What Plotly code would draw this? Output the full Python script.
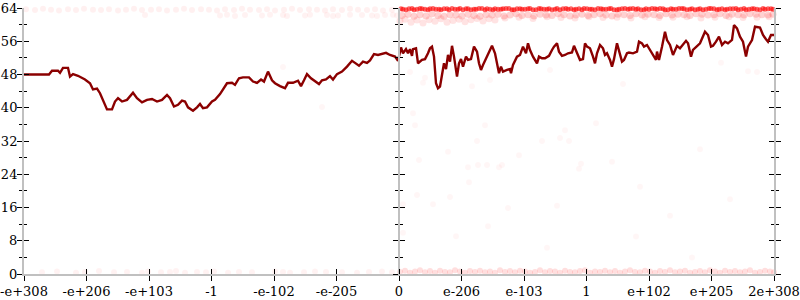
import plotly.graph_objects as go

# ---------------- data ----------------
tick_positions = [0, 62.5, 125, 187.5, 250, 312.5, 375, 437.5, 500, 562.5, 625, 687.5, 750]
tick_labels = ["-e+308", "-e+206", "-e+103", "-1", "-e-102", "-e-205", "0",
               "e-206", "e-103", "1", "e+102", "e+205", "2e+308"]
y_ticks = [0, 8, 16, 24, 32, 40, 48, 56, 64]
y_minor = [4, 12, 20, 28, 36, 44, 52, 60]

line_x = [0, 25, 28, 34, 36, 39, 44, 46, 49, 54, 61, 66, 69, 73, 76, 79, 83, 88, 91, 94, 98,
          103, 109, 113, 118, 123, 128, 133, 138, 143, 146, 150, 154, 158, 161, 164, 169, 173,
          176, 179, 183, 188, 191, 196, 199, 203, 208, 211, 215, 219, 225, 229, 233, 237, 240,
          244, 248, 251, 256, 261, 264, 269, 274, 277, 280, 283, 287, 291, 295, 298, 302, 306,
          309, 313, 318, 323, 328, 331, 335, 339, 343, 346, 350, 354, 359, 362, 366, 371, 374,
          377, 379, 382, 384, 386, 388, 389, 392, 394, 398, 401, 404, 406, 408, 410, 412, 414,
          416, 418, 420, 422, 424, 426, 428, 430, 433, 435, 437, 439, 442, 444, 447, 450, 453,
          455, 457, 459, 463, 468, 471, 473, 475, 477, 479, 483, 486, 487, 489, 493, 496, 499,
          502, 504, 506, 509, 513, 515, 518, 521, 525, 528, 530, 533, 535, 538, 541, 544, 548,
          550, 553, 556, 559, 561, 563, 566, 569, 571, 573, 576, 579, 581, 583, 586, 588, 590,
          593, 595, 598, 600, 603, 605, 609, 613, 615, 618, 620, 623, 626, 629, 632, 633, 635,
          638, 641, 643, 646, 649, 653, 656, 659, 662, 664, 667, 669, 673, 676, 681, 684, 687,
          689, 692, 695, 698, 701, 704, 708, 710, 713, 716, 719, 722, 724, 728, 731, 736, 739,
          742, 744, 747, 750]
line_y = [48, 48, 48.9, 48.9, 48.4, 49.6, 49.6, 47.5, 48.1, 47.7, 46.8, 45.9, 44.4, 44.6, 43.5,
          41.9, 39.6, 39.6, 41.5, 42.3, 41.5, 41.9, 43.6, 42.3, 41.3, 41.9, 42.1, 41.5, 41.9,
          43.1, 42.3, 40.3, 40.7, 41.7, 41.5, 40.1, 39.3, 40.1, 40.9, 39.9, 40.1, 41.5, 41.9,
          43.3, 44.4, 45.9, 46.0, 45.5, 47.1, 47.3, 47.3, 46.3, 46.0, 46.8, 46.3, 48.7, 46.6,
          45.9, 45.2, 44.7, 46.0, 46.0, 46.5, 45.2, 46.6, 48.1, 47.1, 46.5, 45.7, 46.6, 46.8,
          47.6, 46.8, 48.1, 48.7, 49.9, 51.3, 50.8, 50.1, 51.1, 50.8, 51.4, 52.9, 52.7, 52.9,
          53.2, 52.7, 52.3, 51.3,
          54.5, 53.1, 54.1, 53.1, 54.1, 52.5, 54.1, 54.3, 50.7, 51.5, 51.7, 53.1, 54.3, 54.7,
          52.3, 45.9, 44.7, 45.1, 47.5, 50.7, 49.3, 52.7, 51.1, 54.9, 52.3, 47.5, 50.7, 51.7,
          49.9, 52.3, 51.5, 51.7, 54.7, 53.5, 50.7, 49.1, 50.3, 52.3, 54.9, 53.1, 50.3, 48.3,
          49.9, 48.7, 49.1, 49.3, 48.3, 50.3, 52.3, 52.7, 54.7, 53.1, 55.5, 53.9, 52.3, 50.7,
          52.3, 51.9, 51.9, 52.5, 53.9, 54.7, 55.5, 53.5, 52.5, 52.7, 53.1, 53.3, 54.9, 53.1,
          51.5, 51.7, 55.5, 54.7, 54.3, 52.3, 50.7, 53.1, 55.1, 54.3, 52.7, 53.1, 51.5, 49.9,
          51.7, 55.5, 53.9, 51.1, 51.5, 53.1, 53.3, 53.1, 53.5, 55.9, 55.5, 54.7, 55.1, 53.9,
          52.7, 51.5, 53.5, 51.5, 54.7, 58.3, 56.3, 55.1, 52.7, 54.9, 54.3, 55.1, 56.1, 55.5,
          52.3, 53.9, 54.7, 55.5, 58.3, 57.5, 54.7, 54.9, 55.9, 57.1, 55.1, 55.9, 55.5, 56.3,
          59.9, 59.1, 57.1, 55.9, 52.3, 54.7, 56.3, 59.5, 59.3, 57.5, 56.5, 55.9, 57.5, 57.5]

# faint top band, left half
top_left_x = [2, 11, 19, 27, 35, 44, 52, 60, 69, 77, 85, 94, 102, 110, 118, 127, 135, 143, 152,
              160, 168, 177, 185, 193, 201, 210, 218, 226, 235, 243, 251, 260, 268, 276, 285,
              293, 301, 309, 318, 326, 334, 343, 351, 359, 368]
top_left_y = [63.7, 63.5, 63.8, 63.6, 63.4, 63.7, 63.5, 63.8, 63.6, 63.5, 63.7, 63.4, 63.6,
              63.8, 63.5, 63.6, 63.7, 63.4, 63.6, 63.8, 63.5, 63.7, 63.6, 63.4, 63.7, 63.5,
              63.8, 63.6, 63.5, 63.7, 63.4, 63.6, 63.8, 63.5, 63.7, 63.6, 63.4, 63.7, 63.5,
              63.8, 63.6, 63.5, 63.7, 63.4, 63.6]
# sparse second row, left half
row2_left_x = [121, 196, 203, 211, 221, 238, 246, 259, 263, 281, 286, 303, 309, 314, 326, 338,
               348, 353, 361, 369, 373]
row2_left_y = [62.3, 62.2, 62.4, 62.1, 62.3, 62.2, 62.4, 62.3, 62.1, 62.2, 62.4, 62.3, 62.1,
               62.2, 62.4, 62.3, 62.2, 62.1, 62.3, 62.4, 62.2]

# strong top band, right half (two interleaved rows of samples)
top_right_x = [377, 382, 388, 393, 398, 404, 409, 415, 420, 425, 431, 436, 442, 447, 452, 458,
               463, 469, 474, 479, 485, 490, 496, 501, 506, 512, 517, 523, 528, 533, 539, 544,
               550, 555, 560, 566, 571, 577, 582, 587, 593, 598, 604, 609, 614, 620, 625, 631,
               636, 641, 647, 652, 658, 663, 668, 674, 679, 685, 690, 695, 701, 706, 712, 717,
               722, 728, 733, 739, 744, 749]
top_right_x2 = [379, 385, 390, 396, 401, 406, 412, 417, 423, 428, 434, 439, 444, 450, 455, 461,
                466, 471, 477, 482, 488, 493, 498, 504, 509, 515, 520, 525, 531, 536, 542, 547,
                552, 558, 563, 568, 574, 579, 585, 590, 595, 601, 606, 612, 617, 622, 628, 633,
                639, 644, 649, 655, 660, 666, 671, 676, 682, 687, 693, 698, 703, 709, 714, 720,
                725, 730, 736, 741, 747]
top_right_y = [63.8, 63.6, 63.9, 63.7, 63.8, 63.6, 63.9, 63.7, 63.8, 63.6, 63.7, 63.9, 63.8,
               63.6, 63.7, 63.9, 63.8, 63.6, 63.7, 63.8, 63.9, 63.6, 63.8, 63.7, 63.9, 63.6,
               63.8, 63.7, 63.6, 63.9, 63.8, 63.7, 63.6, 63.8, 63.9, 63.7, 63.6, 63.8, 63.7,
               63.9, 63.6, 63.8, 63.7, 63.9, 63.8, 63.6, 63.7, 63.8, 63.9, 63.6, 63.8, 63.7,
               63.9, 63.6, 63.8, 63.7, 63.6, 63.9, 63.8, 63.7, 63.6, 63.8, 63.9, 63.7, 63.6,
               63.8, 63.7, 63.9, 63.8, 63.7]
top_right_y2 = [63.7, 63.8, 63.6, 63.9, 63.7, 63.8, 63.7, 63.6, 63.8, 63.9, 63.7, 63.6, 63.8,
                63.7, 63.9, 63.6, 63.7, 63.8, 63.7, 63.9, 63.6, 63.8, 63.7, 63.8, 63.6, 63.9,
                63.7, 63.8, 63.7, 63.6, 63.9, 63.8, 63.7, 63.6, 63.8, 63.7, 63.9, 63.7, 63.8,
                63.6, 63.7, 63.9, 63.8, 63.7, 63.6, 63.8, 63.9, 63.7, 63.8, 63.6, 63.7, 63.9,
                63.8, 63.7, 63.6, 63.8, 63.7, 63.9, 63.6, 63.8, 63.7, 63.8, 63.6, 63.9, 63.7,
                63.8, 63.6, 63.7, 63.8]

# second band, right half
band2_x = [378, 384, 390, 396, 402, 408, 414, 420, 426, 432, 438, 444, 450, 456, 462, 468, 474,
           480, 486, 492, 498, 504, 510, 516, 522, 528, 534, 540, 546, 552, 558, 564, 570, 576,
           582, 588, 594, 600, 606, 612, 618, 624, 630, 636, 642, 648, 654, 660, 666, 672, 678,
           684, 690, 696, 702, 708, 714, 720, 726, 732, 738, 744, 749]
band2_y = [62.2, 62.5, 62.0, 62.4, 62.1, 62.6, 62.2, 62.0, 62.4, 62.3, 62.1, 62.5, 62.2, 62.0,
           62.4, 62.3, 62.5, 62.1, 62.3, 62.6, 62.2, 62.4, 62.1, 62.5, 62.3, 62.2, 62.6, 62.4,
           62.1, 62.3, 62.5, 62.2, 62.4, 62.6, 62.3, 62.1, 62.5, 62.4, 62.2, 62.6, 62.3, 62.5,
           62.4, 62.2, 62.6, 62.3, 62.5, 62.4, 62.2, 62.6, 62.5, 62.3, 62.4, 62.6, 62.2, 62.5,
           62.4, 62.3, 62.6, 62.5, 62.4, 62.3, 62.5]
band3_x = [376, 381, 387, 393, 399, 405, 411, 417, 423, 429, 435, 441, 447, 453, 459, 465, 471,
           481, 495, 509, 523, 537, 551, 565, 579, 593, 607, 621, 635, 649, 663, 677, 691, 705,
           719, 733, 745]
band3_y = [60.9, 61.3, 60.6, 61.1, 60.4, 61.2, 60.8, 61.4, 60.6, 61.0, 61.3, 60.7, 61.2, 61.5,
           60.9, 61.4, 61.1, 61.6, 61.8, 61.5, 61.9, 61.7, 61.6, 61.9, 61.7, 61.8, 61.6, 61.9,
           61.7, 61.8, 61.9, 61.6, 61.8, 61.9, 61.7, 61.8, 61.9]

# bottom band, right half (dense)
bot_right_x = [376, 381, 386, 391, 396, 401, 406, 411, 416, 421, 426, 431, 436, 441, 446, 451,
               456, 461, 466, 471, 476, 481, 486, 491, 496, 501, 506, 511, 516, 521, 526, 531,
               536, 541, 546, 551, 556, 561, 566, 571, 576, 581, 586, 591, 596, 601, 606, 611,
               616, 621, 626, 631, 636, 641, 646, 651, 656, 661, 666, 671, 676, 681, 686, 691,
               696, 701, 706, 711, 716, 721, 726, 731, 736, 741, 746, 750]
bot_right_y = [0.5, 0.8, 0.3, 0.6, 0.9, 0.4, 0.7, 0.3, 0.8, 0.5, 0.4, 0.9, 0.6, 0.3, 0.7, 0.5,
               0.8, 0.4, 0.6, 0.3, 0.9, 0.5, 0.7, 0.4, 0.8, 0.6, 0.3, 0.5, 0.9, 0.4, 0.7, 0.6,
               0.3, 0.8, 0.5, 0.4, 0.7, 0.9, 0.3, 0.6, 0.5, 0.8, 0.4, 0.7, 0.3, 0.6, 0.9, 0.5,
               0.4, 0.8, 0.6, 0.3, 0.7, 0.5, 0.9, 0.4, 0.6, 0.8, 0.3, 0.5, 0.7, 0.4, 0.9, 0.6,
               0.3, 0.8, 0.5, 0.7, 0.4, 0.6, 0.9, 0.3, 0.5, 0.8, 0.6, 0.4]
# bottom band, left half (sparse)
bot_left_x = [18, 33, 52, 61, 75, 90, 103, 118, 124, 137, 146, 152, 161, 173, 182, 190, 204,
              215, 228, 251, 259, 266, 280, 291, 302, 318, 333, 345, 358, 368]
bot_left_y = [0.4, 0.6, 0.3, 0.5, 0.7, 0.4, 0.5, 0.3, 0.6, 0.4, 0.5, 0.7, 0.3, 0.5, 0.4, 0.6,
              0.3, 0.5, 0.4, 0.6, 0.5, 0.3, 0.4, 0.6, 0.5, 0.4, 0.3, 0.5, 0.6, 0.4]

# scattered stray points
stray_x = [389, 391, 461, 453, 518, 536, 545, 541, 572, 424, 495, 395, 444, 454, 463, 475, 478,
           557, 555, 445, 393, 426, 409, 379, 484, 533, 464, 379, 432, 523, 386, 401, 399, 448,
           466, 526, 697, 724, 733, 599, 259, 298, 286, 588, 616, 646, 676, 706, 612, 668]
stray_y = [38.7, 35.8, 35.8, 32.0, 32.0, 32.7, 32.0, 34.6, 36.3, 29.4, 28.6, 27.4, 25.7, 26.2,
           26.2, 25.7, 26.2, 26.5, 25.3, 22.1, 19.0, 18.5, 16.8, 16.8, 15.9, 16.4, 11.5, 9.9,
           9.1, 6.3, 48.6, 47.2, 46.0, 45.2, 46.7, 49.1, 50.8, 48.8, 48.6, 45.7, 49.8, 40.2,
           46.0, 27.0, 21.0, 14.0, 30.0, 18.0, 9.0, 4.0]

# ---------------- figure ----------------
FONT = "DejaVu Serif"
fig = go.Figure()

def pts(x, y, alpha, size=6):
    fig.add_trace(go.Scatter(x=x, y=y, mode="markers", hoverinfo="skip", cliponaxis=False,
                             marker=dict(size=size, color="rgba(255,0,0,%s)" % alpha,
                                         line=dict(width=0))))

pts(top_left_x, top_left_y, 0.06)
pts(row2_left_x, row2_left_y, 0.05)
pts(band2_x, band2_y, 0.18, 7)
pts(band3_x, band3_y, 0.11, 7)
pts(top_right_x, top_right_y, 0.6, 5)
pts(top_right_x2, top_right_y2, 0.6, 5)
pts(bot_right_x, bot_right_y, 0.13)
pts(bot_left_x, bot_left_y, 0.05)
pts(stray_x, stray_y, 0.035)

fig.add_trace(go.Scatter(x=line_x, y=line_y, mode="lines", hoverinfo="skip", cliponaxis=False,
                         line=dict(color="#8b0000", width=2.4)))

# invisible anchors so that every decorative axis is drawn
for xa, ya in [("x2", "y"), ("x", "y2"), ("x", "y3"), ("x", "y4"), ("x", "y5"), ("x", "y6")]:
    fig.add_trace(go.Scatter(x=[0], y=[0], xaxis=xa, yaxis=ya, mode="markers",
                             hoverinfo="skip", marker=dict(opacity=0)))

tickfont = dict(family=FONT, size=13, color="black")
common_x = dict(range=[0, 750], tickvals=tick_positions, showgrid=False, zeroline=False,
                tickcolor="black", tickwidth=1, ticklen=5, fixedrange=True, automargin=False)
common_y = dict(range=[0, 64], tickvals=y_ticks, showgrid=False, zeroline=False,
                tickcolor="black", tickwidth=1, ticklen=5, fixedrange=True, automargin=False)

def minor(side):
    return dict(tickvals=y_minor, ticks=side, ticklen=3, tickcolor="black", tickwidth=1,
                showgrid=False)

fig.update_layout(
    width=800, height=300, autosize=False,
    margin=dict(l=24, r=26, t=8, b=26, pad=0),
    paper_bgcolor="white", plot_bgcolor="white",
    showlegend=False,
    xaxis=dict(**common_x, ticktext=tick_labels, ticks="outside", showline=True,
               linecolor="#c0c0c0", linewidth=2, tickfont=tickfont, ticklabelstandoff=-1),
    xaxis2=dict(**common_x, overlaying="x", anchor="y", side="bottom", ticks="inside",
                showticklabels=False, showline=False),
    yaxis=dict(**common_y, ticks="outside", showline=True, linecolor="#c0c0c0",
               linewidth=2, tickfont=tickfont, minor=minor("outside"), ticklabelstandoff=-3),
    yaxis2=dict(**common_y, overlaying="y", anchor="x", side="left", ticks="inside",
                showticklabels=False, showline=False, minor=minor("inside")),
    yaxis3=dict(**common_y, overlaying="y", anchor="free", position=0.5, side="left",
                ticks="outside", showticklabels=False, showline=True, linecolor="#c0c0c0",
                linewidth=2, minor=minor("outside")),
    yaxis4=dict(**common_y, overlaying="y", anchor="free", position=0.5, side="left",
                ticks="inside", showticklabels=False, showline=False, minor=minor("inside")),
    yaxis5=dict(**common_y, overlaying="y", anchor="x", side="right", ticks="outside",
                showticklabels=False, showline=True, linecolor="#c0c0c0", linewidth=2,
                minor=minor("outside")),
    yaxis6=dict(**common_y, overlaying="y", anchor="x", side="right", ticks="inside",
                showticklabels=False, showline=False, minor=minor("inside")),
)

fig.write_html("out.html")
